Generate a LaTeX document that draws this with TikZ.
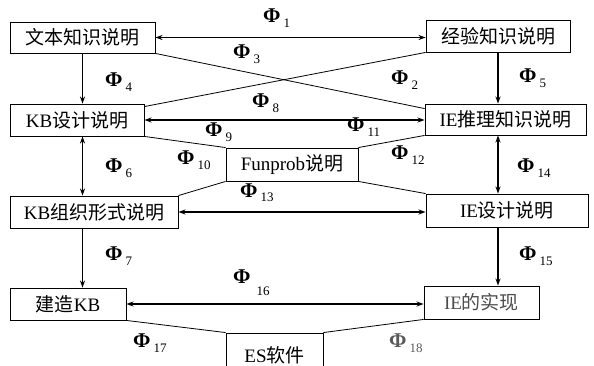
\documentclass[tikz,border=0pt]{standalone}
\usepackage{fontspec}
\setmainfont{Liberation Serif}
\newfontfamily\cjk{Noto Sans CJK SC}
\usetikzlibrary{arrows.meta}

\newcommand{\zh}[1]{{\cjk #1}}
\newcommand{\ph}[1]{\textbf{Φ}\hspace{3pt}\raisebox{-5pt}{\fontsize{13}{13}\selectfont #1}}

\begin{document}
\begin{tikzpicture}[x=1pt, y=-1pt, >={Stealth[length=7pt, width=5pt]},
    box/.style={draw, line width=0.9pt, inner sep=0pt, font=\fontsize{19}{22}\selectfont},
    lab/.style={anchor=base west, inner sep=0pt, font=\fontsize{21}{24}\selectfont},
    link/.style={line width=1.2pt},
    cross/.style={line width=0.8pt}]
      \useasboundingbox (0,0) rectangle (594,366);
      \clip (0,0) rectangle (594,366);
      % boxes
      \node[box, minimum width=145pt, minimum height=31pt] (wenben) at (82.5,37.5) {\zh{文本知识说明}};
      \node[box, minimum width=144pt, minimum height=32pt] (jingyan) at (498,36) {\zh{经验知识说明}};
      \node[box, minimum width=134pt, minimum height=32pt] (kbsheji) at (77,120) {KB\zh{设计说明}};
      \node[box, minimum width=161pt, minimum height=31pt] (ietuili) at (505.5,119.5) {IE\zh{推理知识说明}};
      \node[box, minimum width=132pt, minimum height=33pt] (funprob) at (292,164.5) {Funprob\zh{说明}};
      \node[box, minimum width=168pt, minimum height=32pt] (kbzuzhi) at (94,212) {KB\zh{组织形式说明}};
      \node[box, minimum width=162pt, minimum height=33pt] (iesheji) at (507,210.5) {IE\zh{设计说明}};
      \node[box, minimum width=116pt, minimum height=32pt] (jianzao) at (68,304) {\zh{建造}KB};
      \node[box, minimum width=115pt, minimum height=33pt, text=black!70] (ieshixian) at (481.5,302.5) {IE\zh{的实现}};
      \node[box, minimum width=97pt, minimum height=44pt] (es) at (274.5,355) {ES\zh{软件}};
      % arrows
      \path[link, <->] (wenben.east) edge (wenben.east -| jingyan.west)
            (kbsheji.east) edge (kbsheji.east -| ietuili.west)
            (kbzuzhi.east) edge (kbzuzhi.east -| iesheji.west)
            (jianzao.east) edge (jianzao.east -| ieshixian.west)
            (kbsheji.south -| wenben) edge (kbzuzhi.north -| wenben)
            (ietuili.south -| jingyan) edge (iesheji.north -| jingyan);
      \path[link, ->] (wenben.south) edge (kbsheji.north -| wenben)
            (jingyan.south) edge (ietuili.north -| jingyan)
            (kbzuzhi.south -| wenben) edge (jianzao.north -| wenben)
            (iesheji.south -| jingyan) edge (ieshixian.north -| jingyan);
      % plain lines
      \path[cross] (wenben.south east) edge ([yshift=-5pt]ietuili.north west)
            (jingyan.south west) edge ([yshift=-3pt]kbsheji.north east)
            (kbsheji.south east) edge (funprob.north west)
            (funprob.north east) edge (ietuili.south west)
            (funprob.south west) edge (kbzuzhi.north east)
            (funprob.south east) edge (iesheji.north west)
            (jianzao.south east) edge (es.north west)
            (ieshixian.south west) edge (es.north east);
      % labels
      \node[lab] (p1) at (263,23) {\ph{1}};
      \node[lab] (p2) at (391,85) {\ph{2}};
      \node[lab] (p3) at (233,59) {\ph{3}};
      \node[lab] (p4) at (105,87) {\ph{4}};
      \node[lab] (p5) at (519,83) {\ph{5}};
      \node[lab] (p6) at (105,173) {\ph{6}};
      \node[lab] (p7) at (105,260) {\ph{7}};
      \node[lab] (p8) at (252,108) {\ph{8}};
      \node[lab] (p9) at (205,137) {\ph{9}};
      \node[lab] (p10) at (177,165) {\ph{10}};
      \node[lab] (p11) at (347,132) {\ph{11}};
      \node[lab] (p12) at (391,160) {\ph{12}};
      \node[lab] (p13) at (240,197) {\ph{13}};
      \node[lab] (p14) at (517,173) {\ph{14}};
      \node[lab] (p15) at (519,260) {\ph{15}};
      \node[lab] (p16) at (233,283) {\textbf{Φ}\hspace{6pt}\raisebox{-12pt}{\fontsize{13}{13}\selectfont 16}};
      \node[lab] (p17) at (133,347) {\ph{17}};
      \node[lab, text=black!65] (p18) at (389,347) {\ph{18}};
\end{tikzpicture}
\end{document}
